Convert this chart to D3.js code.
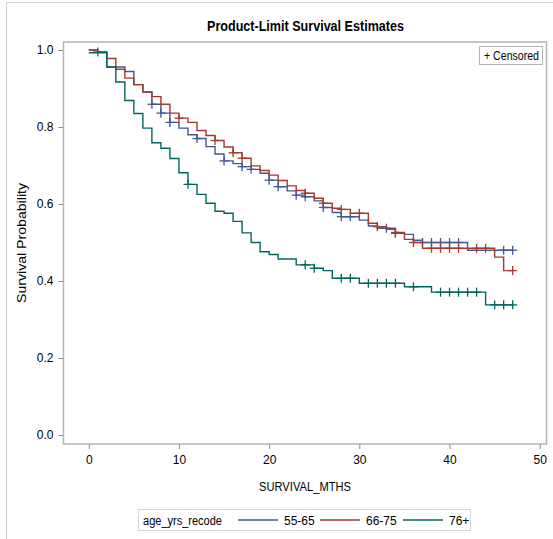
<!DOCTYPE html>
<html><head><meta charset="utf-8">
<script src="https://cdn.jsdelivr.net/npm/d3@7"></script>
<style>
body{margin:0;background:#fff;}
text{font-family:"Liberation Sans",Arial,sans-serif;fill:#000;}
</style></head>
<body>
<svg id="chart" width="553" height="539"></svg>
<script>
const groups = ["55-65", "66-75", "76+"];
const colors = ["#445694", "#A23A2E", "#01665E"];

const times5565 = [0,1,2,4,5,6,7,8,9,10,11,12,13,14,15,16,17,18,19,20,21,22,23,24,25,26,27,28,30,31,32,34,35,36,37,42,47];
const surv5565  = [1.0,0.995,0.956,0.944,0.910,0.891,0.859,0.836,0.812,0.797,0.780,0.770,0.749,0.730,0.712,0.705,0.697,0.690,0.680,0.662,0.645,0.634,0.623,0.619,0.608,0.591,0.578,0.567,0.558,0.543,0.537,0.524,0.521,0.506,0.500,0.480,0.480];
const cens5565  = [1,7,8,9,12,15,17,18,20,21,23,24,26,28,29,33,34,37,38,39,40,41,46,47];

const times6675 = [0,1,2,3,4,5,6,7,8,9,10,11,12,13,14,15,16,17,18,19,20,21,22,23,24,25,26,27,28,29,31,32,33,34,35,36,37,45,46,47];
const surv6675  = [1.0,0.995,0.978,0.950,0.927,0.910,0.891,0.879,0.859,0.836,0.823,0.812,0.791,0.778,0.765,0.748,0.733,0.719,0.699,0.687,0.675,0.661,0.647,0.635,0.628,0.615,0.602,0.589,0.586,0.576,0.550,0.541,0.534,0.526,0.508,0.500,0.485,0.462,0.427,0.427];
const cens6675  = [10,14,16,17,24,26,28,30,32,34,36,38,39,40,41,43,44,47];

const times76 = [0,2,3,4,5,6,7,8,9,10,11,12,13,14,15,16,17,18,19,20,21,23,25,26,27,30,35,38,44,47];
const surv76  = [0.993,0.956,0.917,0.869,0.835,0.797,0.759,0.745,0.718,0.681,0.651,0.625,0.602,0.581,0.576,0.555,0.525,0.500,0.476,0.469,0.457,0.442,0.433,0.427,0.407,0.394,0.385,0.371,0.338,0.338];
const cens76  = [11,24,25,28,29,31,32,33,34,36,39,40,41,42,43,45,46,47];

const xTicks = [0,10,20,30,40,50];
const yTicks = [0.0,0.2,0.4,0.6,0.8,1.0];

const series = [
  {name: groups[0], times: times5565, surv: surv5565, cens: cens5565, color: colors[0]},
  {name: groups[1], times: times6675, surv: surv6675, cens: cens6675, color: colors[1]},
  {name: groups[2], times: times76, surv: surv76, cens: cens76, color: colors[2]}
];

const svg = d3.select("#chart");
const L = 63.5, R = 546.5, T = 42, B = 444;
const x = d3.scaleLinear().domain([-2.8, 50.75]).range([L, R]);
const y = d3.scaleLinear().domain([-0.0234, 1.0208]).range([B, T]);

// outer border (left/top)
svg.append("line").attr("x1",6.5).attr("x2",6.5).attr("y1",2.5).attr("y2",539).attr("stroke","#d0d0d0");
svg.append("line").attr("x1",6.5).attr("x2",553).attr("y1",2.5).attr("y2",2.5).attr("stroke","#d0d0d0");

// title
svg.append("text").attr("x",207).attr("y",31)
  .attr("font-size","14px").attr("font-weight","bold")
  .attr("textLength",197).attr("lengthAdjust","spacingAndGlyphs")
  .text("Product-Limit Survival Estimates");

// axes
const xAxis = svg.append("g").attr("transform",`translate(0,${B})`)
  .call(d3.axisBottom(x).tickValues(xTicks).tickSize(5).tickPadding(6).tickFormat(d3.format("d")));
const yAxis = svg.append("g").attr("transform",`translate(${L},0)`)
  .call(d3.axisLeft(y).tickValues(yTicks).tickSize(5).tickPadding(5).tickFormat(d3.format(".1f")));
[xAxis,yAxis].forEach(a=>{
  a.select(".domain").remove();
  a.selectAll(".tick line").attr("stroke","#8c8c8c");
  a.selectAll(".tick text").attr("font-size","12px").attr("font-family",null).style("fill","#000");
});

// frame
svg.append("rect").attr("x",L).attr("y",T).attr("width",R-L).attr("height",B-T)
  .attr("fill","none").attr("stroke","#b4b4b4").attr("stroke-width",1.5);

// axis labels
svg.append("text").attr("x",259).attr("y",491).attr("font-size","12px")
  .attr("textLength",92).attr("lengthAdjust","spacingAndGlyphs").text("SURVIVAL_MTHS");
svg.append("text").attr("transform","translate(26,303) rotate(-90)").attr("font-size","12px")
  .attr("textLength",120).attr("lengthAdjust","spacingAndGlyphs").text("Survival Probability");

// curves
const line = d3.line().x(d=>x(d[0])).y(d=>y(d[1])).curve(d3.curveStepAfter);
function survAt(s, t){
  let v = s.surv[0];
  for (let i=0;i<s.times.length;i++){ if (s.times[i] <= t) v = s.surv[i]; }
  return v;
}
const g = svg.append("g");
series.forEach(s=>{
  const pts = s.times.map((t,i)=>[t, s.surv[i]]);
  g.append("path").datum(pts).attr("d", line).attr("fill","none")
    .attr("stroke", s.color).attr("stroke-width",1.4);
  const cg = g.append("g").attr("stroke", s.color).attr("stroke-width",1.3);
  s.cens.forEach(t=>{
    const cx = x(t), cy = y(survAt(s,t));
    cg.append("line").attr("x1",cx).attr("x2",cx).attr("y1",cy-4.5).attr("y2",cy+4.5);
    cg.append("line").attr("x1",cx-4.5).attr("x2",cx+4.5).attr("y1",cy).attr("y2",cy);
  });
});

// censored legend (top right)
svg.append("rect").attr("x",479.5).attr("y",46.5).attr("width",63).attr("height",18)
  .attr("fill","#fff").attr("stroke","#b4b4b4");
svg.append("text").attr("x",484).attr("y",60).attr("font-size","12px")
  .attr("textLength",55).attr("lengthAdjust","spacingAndGlyphs").text("+ Censored");

// bottom legend
const lg = svg.append("g");
lg.append("rect").attr("x",138.5).attr("y",509.5).attr("width",332).attr("height",21)
  .attr("fill","#fff").attr("stroke","#d4d4d4");
lg.append("text").attr("x",143).attr("y",524.5).attr("font-size","12px")
  .attr("textLength",79).attr("lengthAdjust","spacingAndGlyphs").text("age_yrs_recode");
const legX = [238, 320, 403];
series.forEach((s,i)=>{
  lg.append("line").attr("x1",legX[i]).attr("x2",legX[i]+40).attr("y1",520).attr("y2",520)
    .attr("stroke",s.color).attr("stroke-width",1.4);
  lg.append("text").attr("x",legX[i]+46).attr("y",524.5).attr("font-size","12px").text(s.name);
});
</script>
</body></html>
